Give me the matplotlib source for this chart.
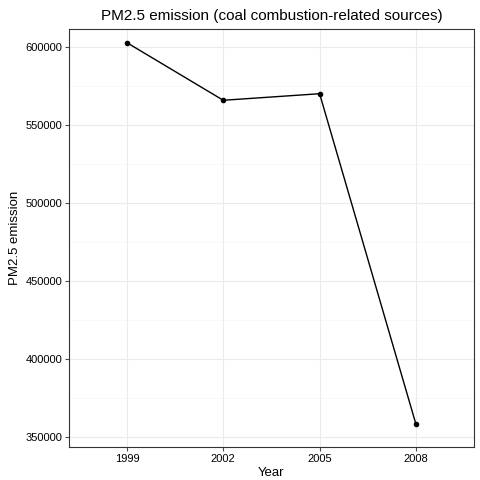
import matplotlib
matplotlib.use("Agg")
import matplotlib.pyplot as plt
import numpy as np

plt.rcParams['font.family'] = ['Liberation Sans', 'DejaVu Sans']

years = ["1999", "2002", "2005", "2008"]
emissions = [602600, 565700, 569900, 358100]

fig = plt.figure(figsize=(4.8, 4.8), dpi=100)
ax = fig.add_axes([0.144, 0.069, 0.843, 0.871])

x = np.arange(1, len(years) + 1)
ax.plot(x, emissions, color="black", linewidth=1, marker="o", markersize=3)

ax.set_xlim(0.4, 4.6)
ax.set_ylim(343600, 611500)
ax.set_xticks(x)
ax.set_xticklabels(years)
ticks = [350000, 400000, 450000, 500000, 550000, 600000]
ax.set_yticks(ticks)
ax.set_yticks([t + 25000 for t in ticks[:-1]], minor=True)
ax.tick_params(axis="both", which="major", labelsize=8, colors="#4d4d4d", length=3, pad=2)
ax.tick_params(axis="y", which="minor", length=0)
for lab in ax.get_xticklabels() + ax.get_yticklabels():
    lab.set_color("black")

ax.grid(True, which="major", color="#ebebeb", linewidth=0.8)
ax.grid(True, which="minor", axis="y", color="#f5f5f5", linewidth=0.5)
ax.set_axisbelow(True)
for s in ax.spines.values():
    s.set_color("#333333")
    s.set_linewidth(0.8)

ax.set_xlabel("Year", fontsize=9.5, labelpad=2)
ax.set_ylabel("PM2.5 emission", fontsize=9.5, labelpad=3)
ax.set_title("PM2.5 emission (coal combustion-related sources)", fontsize=11, pad=6)

fig.savefig("out.png", dpi=100)
